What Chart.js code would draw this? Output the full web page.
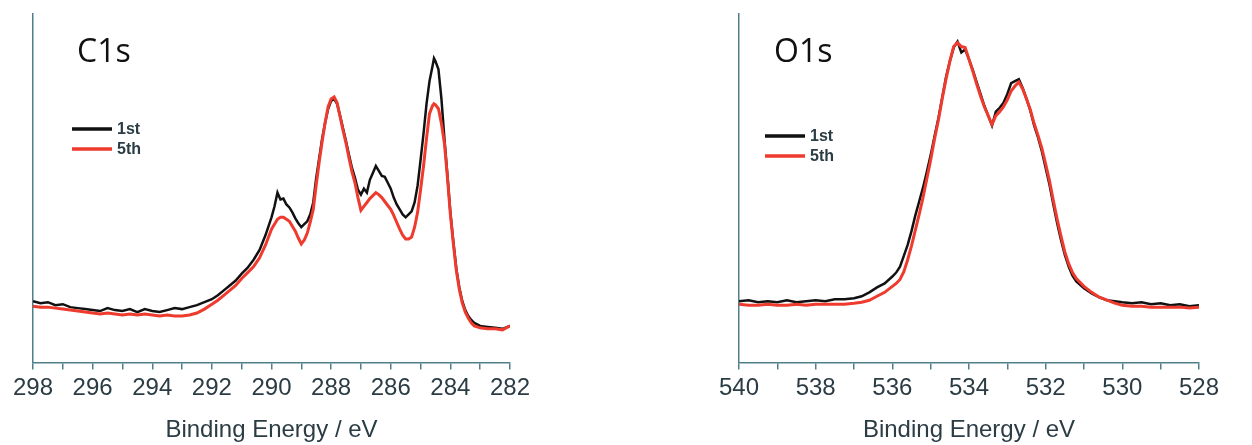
<!DOCTYPE html>
<html>
<head>
<meta charset="utf-8">
<script src="https://cdn.jsdelivr.net/npm/chart.js@4.4.1/dist/chart.umd.min.js"></script>
<style>
  body { margin: 0; background: #fff; }
  #wrap { position: relative; width: 1252px; height: 445px; }
  canvas { position: absolute; top: 0; }
</style>
</head>
<body>
<div id="wrap">
  <canvas id="c1s" width="560" height="445" style="left:0"></canvas>
  <canvas id="o1s" width="552" height="445" style="left:700px"></canvas>
</div>
<script>
// C1s spectrum (binding energy in eV, intensity in arbitrary units)
const c1sEnergy = [298, 297.75, 297.5, 297.25, 297, 296.75, 296.5, 296.25, 296, 295.75, 295.5, 295.25, 295, 294.75, 294.5, 294.25, 294, 293.75, 293.5, 293.25, 293, 292.75, 292.5, 292.25, 292, 291.8, 291.6, 291.4, 291.2, 291, 290.8, 290.6, 290.4, 290.2, 290, 289.9, 289.8, 289.7, 289.6, 289.5, 289.4, 289.3, 289.2, 289.1, 289, 288.9, 288.8, 288.7, 288.6, 288.5, 288.4, 288.3, 288.2, 288.1, 288, 287.9, 287.8, 287.7, 287.6, 287.5, 287.4, 287.3, 287.2, 287.1, 287, 286.9, 286.8, 286.7, 286.6, 286.5, 286.4, 286.3, 286.2, 286.1, 286, 285.9, 285.8, 285.7, 285.6, 285.5, 285.4, 285.3, 285.2, 285.1, 285, 284.9, 284.8, 284.7, 284.6, 284.55, 284.5, 284.4, 284.3, 284.2, 284.1, 284, 283.9, 283.8, 283.7, 283.6, 283.5, 283.4, 283.3, 283.2, 283, 282.75, 282.5, 282.25, 282];
const c1sFirst = [62, 60, 61, 58, 59, 56, 55, 54, 53, 52, 55, 53, 52, 54, 51, 54, 52, 51, 53, 55, 54, 56, 58, 61, 64, 68, 73, 78, 83, 90, 96, 104, 114, 129, 147, 158, 172, 165, 166, 160, 157, 152, 146, 141, 137, 140, 143, 150, 162, 187, 207, 227, 243, 257, 265, 267, 262, 250, 237, 224, 210, 197, 187, 175, 170, 176, 172, 185, 192, 199, 194, 189, 188, 182, 176, 167, 160, 155, 150, 147, 150, 153, 162, 179, 205, 232, 262, 285, 300, 308, 305, 297, 267, 227, 190, 152, 122, 95, 76, 62, 53, 47, 43, 40, 37, 36, 35, 34, 37];
const c1sFifth = [57, 56, 56, 55, 54, 53, 52, 51, 50, 49, 50, 49, 48, 49, 48, 49, 48, 47, 48, 47, 47, 48, 50, 54, 59, 63, 68, 73, 78, 85, 91, 97, 106, 119, 135, 140, 145, 147, 147, 145, 143, 138, 133, 126, 120, 124, 131, 142, 155, 180, 203, 224, 243, 259, 267, 269, 263, 249, 235, 222, 207, 193, 182, 167, 154, 158, 162, 166, 169, 172, 170, 167, 163, 159, 155, 149, 142, 135, 129, 125, 125, 127, 137, 152, 175, 199, 227, 252, 260, 262, 261, 257, 242, 222, 188, 150, 120, 93, 74, 60, 51, 45, 40, 37, 35, 34, 34, 33, 37];

// O1s spectrum
const o1sEnergy = [540, 539.75, 539.5, 539.25, 539, 538.75, 538.5, 538.25, 538, 537.75, 537.5, 537.25, 537, 536.8, 536.6, 536.4, 536.2, 536, 535.9, 535.8, 535.7, 535.6, 535.5, 535.4, 535.3, 535.2, 535.1, 535, 534.9, 534.8, 534.7, 534.6, 534.5, 534.4, 534.3, 534.2, 534.1, 534, 533.9, 533.8, 533.7, 533.6, 533.5, 533.4, 533.3, 533.2, 533.1, 533, 532.9, 532.8, 532.7, 532.6, 532.5, 532.4, 532.3, 532.2, 532.1, 532, 531.9, 531.8, 531.7, 531.6, 531.5, 531.4, 531.3, 531.2, 531, 530.8, 530.6, 530.4, 530.2, 530, 529.75, 529.5, 529.25, 529, 528.75, 528.5, 528.25, 528];
const o1sFirst = [62, 63, 61, 62, 61, 63, 61, 62, 63, 62, 64, 64, 65, 67, 71, 76, 80, 87, 91, 97, 108, 119, 133, 149, 163, 177, 193, 210, 229, 247, 268, 289, 305, 319, 325, 314, 317, 307, 296, 284, 272, 260, 250, 240, 254, 258, 263, 272, 283, 285, 287, 278, 267, 255, 240, 228, 214, 197, 180, 160, 141, 124, 109, 97, 88, 82, 75, 70, 66, 63, 62, 61, 60, 61, 59, 60, 58, 59, 57, 58];
const o1sFifth = [59, 58, 58, 59, 58, 58, 59, 58, 59, 59, 59, 59, 60, 61, 63, 67, 71, 77, 80, 84, 92, 104, 118, 134, 150, 167, 186, 205, 226, 245, 267, 287, 305, 320, 324, 320, 319, 307, 295, 282, 270, 259, 250, 241, 250, 254, 259, 266, 275, 280, 284, 277, 267, 256, 242, 230, 217, 201, 184, 164, 145, 128, 112, 100, 91, 85, 77, 71, 66, 63, 60, 58, 57, 57, 56, 56, 56, 56, 55, 56];

const seriesNames = ['1st', '5th'];
const c1sRange = [282, 298];
const o1sRange = [528, 540];
const axisTitle = 'Binding Energy / eV';

const BLACK = '#111111';
const RED = '#ee3b2e';
const AXIS = '#4f7f8a';
const TEXT = '#2b3c44';

function pts(xs, ys) {
  return xs.map((x, i) => ({ x: x, y: ys[i] }));
}

// draws the panel name and the small legend inside the plot
const panelText = {
  id: 'panelText',
  afterDatasetsDraw(chart, args, opts) {
    const ctx = chart.ctx;
    ctx.save();
    ctx.fillStyle = '#111';
    ctx.font = '32px "Open Sans"';
    ctx.textBaseline = 'alphabetic';
    ctx.fillText(opts.title, opts.titleX, opts.titleY);

    ctx.font = 'bold 16px "Liberation Sans"';
    ctx.textBaseline = 'middle';
    const colors = [BLACK, RED];
    seriesNames.forEach((name, i) => {
      const y = opts.legY + i * 20;
      ctx.strokeStyle = colors[i];
      ctx.lineWidth = 3.5;
      ctx.beginPath();
      ctx.moveTo(opts.legX, y);
      ctx.lineTo(opts.legX + 40, y);
      ctx.stroke();
      ctx.fillStyle = TEXT;
      ctx.fillText(name, opts.legX + 45, y + 1);
    });
    ctx.restore();
  }
};

function makeChart(id, energy, first, fifth, range, pad, text) {
  const ctx = document.getElementById(id).getContext('2d');
  return new Chart(ctx, {
    type: 'line',
    data: {
      datasets: [{
        label: seriesNames[1],
        data: pts(energy, fifth),
        borderColor: RED,
        borderWidth: 3,
        pointRadius: 0,
        tension: 0
      }, {
        label: seriesNames[0],
        data: pts(energy, first),
        borderColor: BLACK,
        borderWidth: 2.5,
        pointRadius: 0,
        tension: 0
      }]
    },
    options: {
      responsive: false,
      animation: false,
      layout: { padding: pad },
      plugins: {
        legend: { display: false },
        tooltip: { enabled: false },
        panelText: text
      },
      scales: {
        x: {
          type: 'linear',
          reverse: true,
          min: range[0],
          max: range[1],
          grid: { drawOnChartArea: false, color: AXIS, tickLength: 7, lineWidth: 1.5 },
          border: { color: AXIS, width: 1.5 },
          ticks: {
            stepSize: 1,
            autoSkip: false,
            maxRotation: 0,
            padding: 5,
            color: TEXT,
            font: { family: '"Liberation Sans", Arial', size: 24 },
            callback: v => (v % 2 === 0 ? String(v) : '')
          },
          title: {
            display: true,
            text: axisTitle,
            color: TEXT,
            font: { family: '"Liberation Sans", Arial', size: 24 },
            padding: { top: 8, bottom: 0 }
          }
        },
        y: {
          min: 0,
          max: 353,
          grid: { drawOnChartArea: false, drawTicks: false },
          border: { color: AXIS, width: 1.5 },
          ticks: { display: false }
        }
      }
    },
    plugins: [panelText]
  });
}

makeChart('c1s', c1sEnergy, c1sFirst, c1sFifth, c1sRange,
  { left: 33, right: 50, top: 14, bottom: 0 },
  { title: 'C1s', titleX: 77, titleY: 62, legX: 72, legY: 129 });

makeChart('o1s', o1sEnergy, o1sFirst, o1sFifth, o1sRange,
  { left: 39, right: 53, top: 14, bottom: 0 },
  { title: 'O1s', titleX: 74, titleY: 62, legX: 65, legY: 136 });
</script>
</body>
</html>
